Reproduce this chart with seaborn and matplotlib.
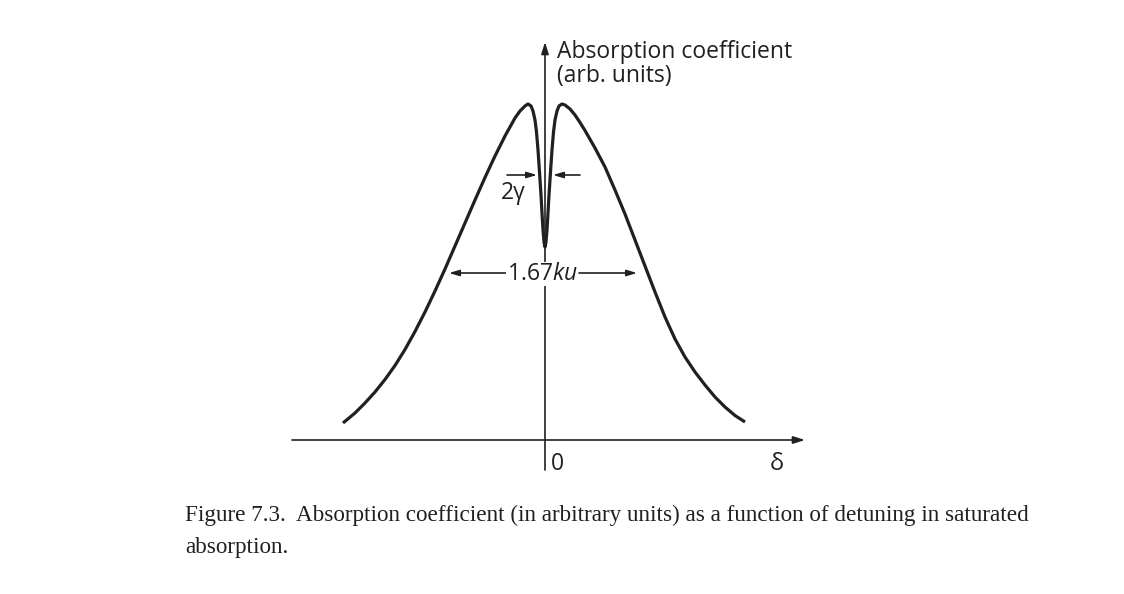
import matplotlib
matplotlib.use("Agg")
import matplotlib.pyplot as plt
import seaborn as sns

# Detuning (arb. units) and absorption coefficient (arb. units)
detuning = [-2.02, -1.90, -1.80, -1.70, -1.60, -1.50, -1.40, -1.30, -1.20, -1.10,
            -1.00, -0.90, -0.80, -0.70, -0.60, -0.50, -0.40, -0.30, -0.25, -0.20,
            -0.17, -0.14, -0.12, -0.10, -0.085, -0.07, -0.055, -0.04, -0.03, -0.02,
            -0.01, 0.00, 0.01, 0.02, 0.03, 0.04, 0.055, 0.07, 0.085, 0.10,
            0.12, 0.14, 0.17, 0.20, 0.25, 0.30, 0.35, 0.40, 0.50, 0.60,
            0.70, 0.80, 0.90, 1.00, 1.10, 1.20, 1.30, 1.40, 1.50, 1.60,
            1.70, 1.80, 1.90, 2.00]
absorption = [0.17, 0.27, 0.37, 0.48, 0.605, 0.745, 0.905, 1.085, 1.28, 1.49,
              1.71, 1.94, 2.17, 2.40, 2.625, 2.84, 3.04, 3.22, 3.29, 3.34,
              3.36, 3.34, 3.29, 3.20, 3.08, 2.90, 2.68, 2.45, 2.27, 2.10,
              1.98, 1.93, 1.98, 2.10, 2.27, 2.45, 2.68, 2.90, 3.08, 3.20,
              3.29, 3.34, 3.36, 3.35, 3.31, 3.25, 3.175, 3.095, 2.92, 2.73,
              2.50, 2.26, 2.00, 1.74, 1.48, 1.23, 1.01, 0.83, 0.68, 0.55,
              0.43, 0.33, 0.245, 0.18]

ink = "#231f20"
sns.set_style("white")
plt.rcParams["font.family"] = ["Open Sans", "DejaVu Sans"]
plt.rcParams["mathtext.fontset"] = "custom"
plt.rcParams["mathtext.rm"] = "Open Sans"
plt.rcParams["mathtext.it"] = "Open Sans:italic"

fig = plt.figure(figsize=(11.24, 5.94), dpi=100)
ax = fig.add_axes([0, 0, 1, 1])
ax.set_xlim(-5.45, 5.79)
ax.set_ylim(-1.54, 4.40)
ax.axis("off")

sns.lineplot(x=detuning, y=absorption, ax=ax, color=ink, lw=2.3,
             estimator=None, sort=False)
ax.lines[-1].set_solid_joinstyle("round")
ax.lines[-1].set_solid_capstyle("butt")

# axes with arrowheads
head = "-|>,head_length=0.7,head_width=0.22"
ax.annotate("", xy=(2.60, 0), xytext=(-2.53, 0),
            arrowprops=dict(arrowstyle=head, lw=1.2, color=ink, shrinkA=0, shrinkB=0))
ax.annotate("", xy=(0, 3.98), xytext=(0, -0.30),
            arrowprops=dict(arrowstyle=head, lw=1.2, color=ink, shrinkA=0, shrinkB=0))

ax.text(0.12, 3.82, "Absorption coefficient", fontsize=16.5, color=ink, va="baseline")
ax.text(0.12, 3.585, "(arb. units)", fontsize=16.5, color=ink, va="baseline")
ax.text(0.06, -0.30, "0", fontsize=16.5, color=ink, va="baseline")
ax.text(2.32, -0.24, "δ", fontsize=17, color=ink, va="center", ha="center")

# width markers
small = "-|>,head_length=0.6,head_width=0.18"
ax.annotate("", xy=(-0.96, 1.67), xytext=(-0.38, 1.67),
            arrowprops=dict(arrowstyle=small, lw=1.2, color=ink, shrinkA=0, shrinkB=0))
ax.annotate("", xy=(0.92, 1.67), xytext=(0.34, 1.67),
            arrowprops=dict(arrowstyle=small, lw=1.2, color=ink, shrinkA=0, shrinkB=0))
ax.text(-0.03, 1.66, r"1.67$\mathit{ku}$", fontsize=16.5, color=ink,
        ha="center", va="center",
        bbox=dict(facecolor="white", edgecolor="none", pad=0.3))

ax.annotate("", xy=(-0.08, 2.65), xytext=(-0.38, 2.65),
            arrowprops=dict(arrowstyle=small, lw=1.2, color=ink, shrinkA=0, shrinkB=0))
ax.annotate("", xy=(0.08, 2.65), xytext=(0.35, 2.65),
            arrowprops=dict(arrowstyle=small, lw=1.2, color=ink, shrinkA=0, shrinkB=0))
ax.text(-0.32, 2.47, "2γ", fontsize=16.5, color=ink, ha="center", va="center")

# caption
cap = ("Figure 7.3.  Absorption coefficient (in arbitrary units) as a function of detuning in saturated\n"
       "absorption.")
fig.text(185 / 1124, 1 - 505 / 594, cap, fontsize=16.7, color=ink, va="top", ha="left",
         family="Liberation Serif", linespacing=1.7)

fig.savefig("out.png", dpi=100)
